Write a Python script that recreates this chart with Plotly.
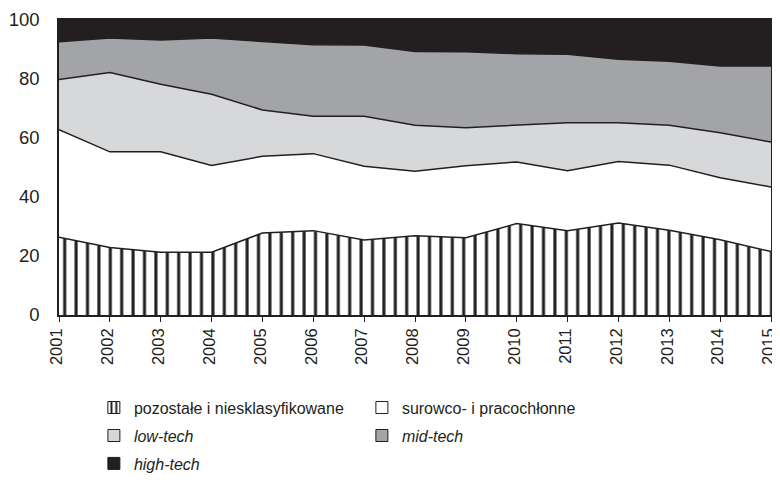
import plotly.graph_objects as go

# lata
lata = list(range(2001, 2016))

# udziały (%) poszczególnych grup
pozostale = [26.4, 22.9, 21.3, 21.3, 27.8, 28.6, 25.4, 26.9, 26.2, 31.0, 28.6, 31.2, 28.7, 25.5, 21.5]
surowco = [36.4, 32.4, 34.0, 29.4, 26.0, 26.1, 25.0, 21.8, 24.4, 20.9, 20.3, 20.8, 22.1, 21.0, 21.9]
low_tech = [17.0, 26.9, 22.9, 24.1, 15.7, 12.7, 17.0, 15.6, 12.9, 12.4, 16.3, 13.2, 13.5, 15.3, 15.2]
mid_tech = [12.8, 11.7, 15.0, 19.1, 23.2, 24.2, 24.1, 25.0, 25.7, 24.3, 23.2, 21.5, 21.7, 22.6, 25.8]
high_tech = [7.4, 6.1, 6.8, 6.1, 7.3, 8.4, 8.5, 10.7, 10.8, 11.4, 11.6, 13.3, 14.0, 15.6, 15.6]

y_ticks = [0, 20, 40, 60, 80, 100]

FONT = "Liberation Sans, Arial, sans-serif"
LINIA = "#231f20"

# nazwa, dane, kolor, wzór, legenda (wiersz)
serie = [
    ("pozostałe i niesklasyfikowane", pozostale, "white", "|", "legend"),
    ("surowco- i pracochłonne", surowco, "white", "", "legend"),
    ("<i>low-tech</i>", low_tech, "#d7d8da", "", "legend2"),
    ("<i>mid-tech</i>", mid_tech, "#a3a4a7", "", "legend2"),
    ("<i>high-tech</i>", high_tech, "#231f20", "", "legend3"),
]

fig = go.Figure()

# warstwy skumulowane
for nazwa, wartosci, kolor, wzor, leg in serie:
    fig.add_trace(go.Scatter(
        x=lata,
        y=wartosci,
        stackgroup="one",
        mode="lines",
        line=dict(color=LINIA, width=1.5),
        fillcolor=kolor,
        fillpattern=dict(shape=wzor, fgcolor=LINIA, bgcolor="white", fgopacity=1,
                         size=11.4, solidity=0.27) if wzor else None,
        showlegend=False,
        hoverinfo="skip",
    ))

# elementy legendy (małe kwadraty)
for nazwa, wartosci, kolor, wzor, leg in serie:
    fig.add_trace(go.Bar(
        x=[None],
        y=[None],
        name=nazwa,
        legend=leg,
        marker=dict(
            color=kolor,
            line=dict(color=LINIA, width=1),
            pattern=dict(shape=wzor, fgcolor=LINIA, bgcolor="white", fgopacity=1,
                         size=6, solidity=0.4) if wzor else None,
        ),
        showlegend=True,
    ))

wiersz = dict(
    orientation="h",
    x=0.049,
    xanchor="left",
    yanchor="top",
    entrywidth=223,
    entrywidthmode="pixels",
    itemwidth=30,
    font=dict(family=FONT, size=16, color="#231f20"),
    traceorder="normal",
)

fig.update_layout(
    width=780,
    height=484,
    margin=dict(l=51, r=17, t=12, b=177),
    paper_bgcolor="white",
    plot_bgcolor="white",
    font=dict(family=FONT, color="#231f20", size=16),
    legend=dict(wiersz, y=-0.2563),
    legend2=dict(wiersz, y=-0.3512),
    legend3=dict(wiersz, y=-0.4458),
)

fig.update_xaxes(
    range=[2001, 2015],
    tickmode="array",
    tickvals=lata,
    ticktext=[str(r) for r in lata],
    tickangle=-90,
    ticks="outside",
    ticklen=5,
    tickcolor=LINIA,
    showgrid=False,
    zeroline=False,
    showline=True,
    linecolor=LINIA,
    linewidth=1.5,
    mirror=True,
    automargin=False,
    ticklabeloverflow="allow",
    ticklabelshift=-2,
    tickfont=dict(family=FONT, size=16.5),
)

fig.update_yaxes(
    range=[0, 100],
    tickmode="array",
    tickvals=y_ticks,
    showgrid=False,
    zeroline=False,
    showline=True,
    linecolor=LINIA,
    linewidth=1.5,
    mirror=True,
    automargin=False,
    ticks="",
    ticklabelstandoff=14,
    tickfont=dict(family=FONT, size=18.5),
)

fig.write_html("out.html")
